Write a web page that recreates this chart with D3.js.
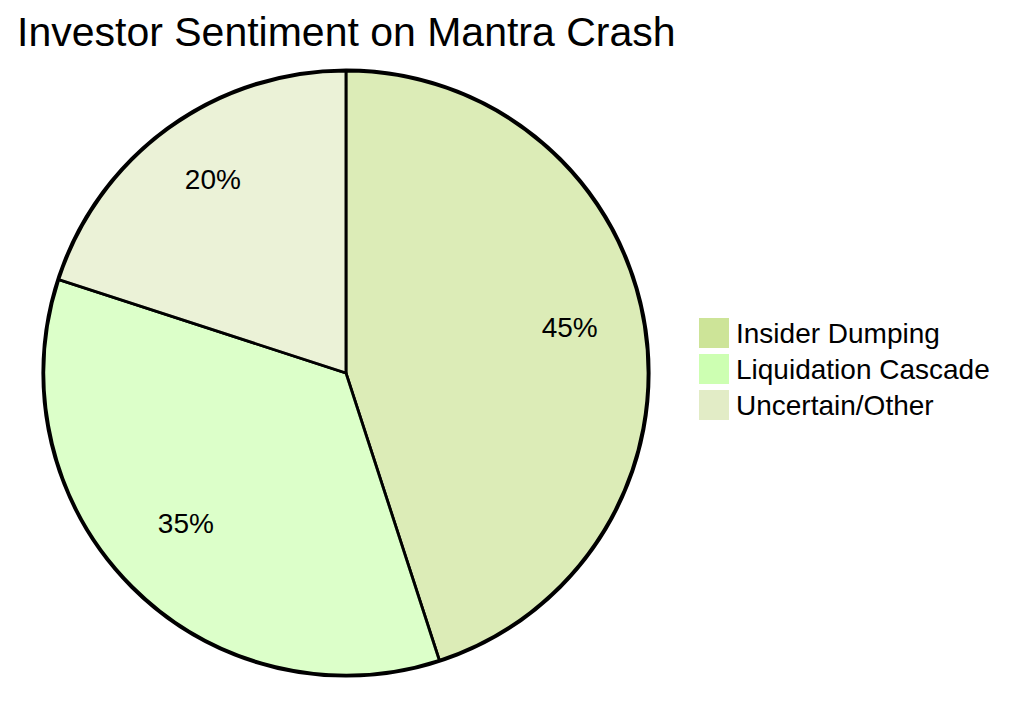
<!DOCTYPE html>
<html>
<head>
<meta charset="utf-8">
<script src="https://cdn.jsdelivr.net/npm/d3@7/dist/d3.min.js"></script>
<style>
  html, body { margin: 0; padding: 0; background: #ffffff; }
  svg { display: block; }
  text { font-family: "Liberation Sans", Arial, sans-serif; fill: #000; }
</style>
</head>
<body>
<svg id="chart" width="1012" height="721"></svg>
<script>
const title = "Investor Sentiment on Mantra Crash";
const categories = ["Insider Dumping", "Liquidation Cascade", "Uncertain/Other"];
const values = [45, 35, 20];
const colors = ["#cde498", "#cdffb2", "#e2ecc6"];

const svg = d3.select("#chart");
const cx = 346, cy = 373, radius = 302;

svg.append("text")
  .attr("x", 17).attr("y", 46)
  .attr("font-size", 41)
  .text(title);

const data = categories.map((c, i) => ({ label: c, value: values[i], color: colors[i] }));
const total = d3.sum(values);

const pie = d3.pie().value(d => d.value).sort(null);
const arcs = pie(data);
const arc = d3.arc().innerRadius(0).outerRadius(radius);
const labelArc = d3.arc().innerRadius(radius * 0.75).outerRadius(radius * 0.75);

const g = svg.append("g").attr("transform", `translate(${cx},${cy})`);

g.append("circle")
  .attr("r", radius + 1)
  .attr("fill", "none")
  .attr("stroke", "#000")
  .attr("stroke-width", 3.2);

g.selectAll("path.slice").data(arcs).enter().append("path")
  .attr("class", "slice")
  .attr("d", arc)
  .attr("fill", d => d.data.color)
  .attr("fill-opacity", 0.7)
  .attr("stroke", "#000")
  .attr("stroke-width", 2.8);

g.selectAll("text.lbl").data(arcs).enter().append("text")
  .attr("class", "lbl")
  .attr("transform", d => `translate(${labelArc.centroid(d)})`)
  .attr("dy", -0.5)
  .attr("text-anchor", "middle")
  .attr("font-size", 28)
  .text(d => Math.round(d.data.value / total * 100) + "%");

const color = d3.scaleOrdinal().domain(categories).range(colors);
const legend = svg.append("g").attr("transform", "translate(699,318)");
const items = legend.selectAll("g").data(categories).enter().append("g")
  .attr("transform", (d, i) => `translate(0,${i * 36})`);
items.append("rect")
  .attr("width", 30).attr("height", 30)
  .attr("fill", d => color(d));
items.append("text")
  .attr("x", 37).attr("y", 24.5)
  .attr("font-size", 28)
  .text(d => d);
</script>
</body>
</html>
